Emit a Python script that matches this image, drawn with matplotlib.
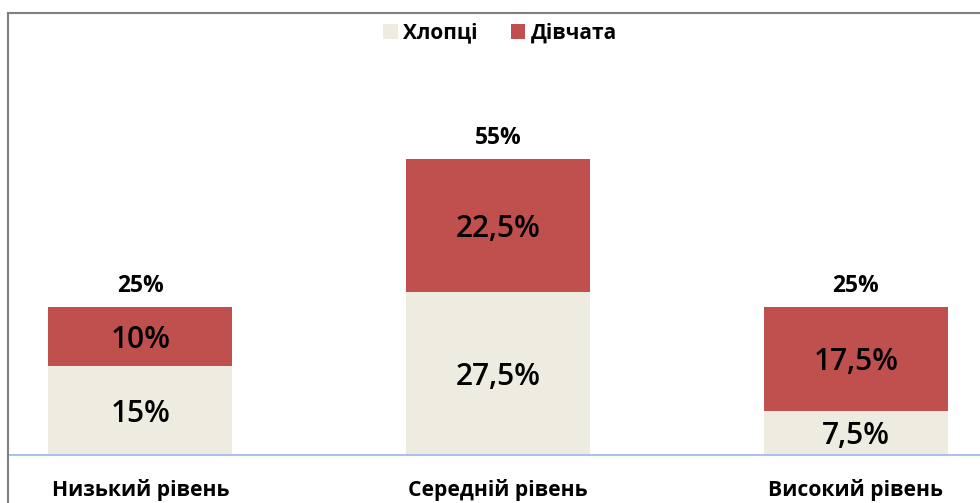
import numpy as np
import matplotlib.pyplot as plt
from matplotlib.lines import Line2D

# дані
categories = ['Низький рівень', 'Середній рівень', 'Високий рівень']
boys = [15, 27.5, 7.5]
girls = [10, 22.5, 17.5]
boys_labels = ['15%', '27,5%', '7,5%']
girls_labels = ['10%', '22,5%', '17,5%']
total_labels = ['25%', '55%', '25%']

W, H = 980, 503
fig = plt.figure(figsize=(W / 100, H / 100), dpi=100)
ax = fig.add_axes([8 / W, (H - 455) / H, (W - 8) / W, (455 - 13) / H])

x = np.arange(len(categories))
bw = 0.514
b1 = ax.bar(x, boys, bw, color='#eeece1', label='Хлопці')
b2 = ax.bar(x, girls, bw, bottom=boys, color='#c0504d', label='Дівчата')

ax.set_xlim(-0.370, 2.347)
ax.set_ylim(0, 74.7)

lab_font = dict(family='Open Sans', fontsize=21.5, fontweight='semibold', color='black')
for i in range(len(x)):
    ax.text(x[i], boys[i] / 2, boys_labels[i], ha='center', va='center_baseline', **lab_font)
    ax.text(x[i], boys[i] + girls[i] / 2, girls_labels[i], ha='center', va='center_baseline',
            **lab_font)
    ax.text(x[i], boys[i] + girls[i] + 3.6, total_labels[i], ha='center', va='center',
            family='Open Sans', fontsize=16.5, fontweight='bold')

for s in ['top', 'right', 'left']:
    ax.spines[s].set_visible(False)
ax.spines['bottom'].set_color('#9ab8e8')
ax.spines['bottom'].set_linewidth(1.2)
ax.set_yticks([])
ax.set_xticks(x)
ax.set_xticklabels(categories, family='Open Sans', fontsize=15.2, fontweight='bold')
ax.tick_params(axis='x', length=0, pad=17)

# рамка
fig.add_artist(Line2D([8 / W, 8 / W], [0, 1 - 13 / H], color='#7f7f7f', lw=1.5))
fig.add_artist(Line2D([8 / W, 1], [1 - 13 / H, 1 - 13 / H], color='#7f7f7f', lw=1.5))

fig.legend(handles=[b1, b2], loc='center', bbox_to_anchor=(500 / W, 1 - 33 / H), ncol=2,
           frameon=False, prop=dict(family='Open Sans', size=15, weight='bold'),
           handlelength=0.7, handleheight=0.7, handletextpad=0.25, columnspacing=1.6)

fig.savefig('out.png', dpi=100, facecolor='white')
